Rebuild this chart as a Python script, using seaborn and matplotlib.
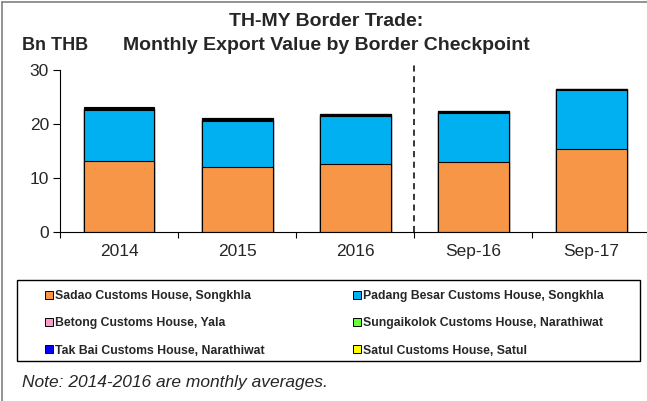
import matplotlib
matplotlib.use('Agg')
import matplotlib.pyplot as plt
import seaborn as sns
import pandas as pd
import numpy as np
from matplotlib.patches import Patch, Rectangle
from matplotlib.lines import Line2D

# data (Bn THB)
periods = ['2014', '2015', '2016', 'Sep-16', 'Sep-17']
sadao = [13.1, 12.0, 12.5, 12.9, 15.3]
padang = [9.5, 8.6, 9.0, 9.2, 10.9]
betong = [0.15, 0.15, 0.1, 0.1, 0.2]
sungaikolok = [0.15, 0.15, 0.15, 0.1, 0.05]
takbai = [0.1, 0.1, 0.1, 0.1, 0.05]
satul = [0.05, 0.05, 0.05, 0.05, 0.02]

names = ['Sadao Customs House, Songkhla', 'Padang Besar Customs House, Songkhla',
         'Betong Customs House, Yala', 'Sungaikolok Customs House, Narathiwat',
         'Tak Bai Customs House, Narathiwat', 'Satul Customs House, Satul']
colors = ['#F79646', '#00B0F0', '#FF99CC', '#66FF33', '#0000FF', '#FFFF00']

sns.set_theme(style="white")
plt.rcParams['font.family'] = ['Liberation Sans', 'DejaVu Sans']

fig = plt.figure(figsize=(6.47, 4.01), dpi=100)
W, H = 647, 401
ax = fig.add_axes([60 / W, 169.5 / H, 590.5 / W, 161.5 / H])

# stacked bars: draw cumulative totals from the top layer down
series = [sadao, padang, betong, sungaikolok, takbai, satul]
cum = np.cumsum(np.array(series), axis=0)
for i in range(len(series) - 1, -1, -1):
    sns.barplot(x=periods, y=cum[i], color=colors[i], width=0.6,
                edgecolor='black', linewidth=0.8, saturation=1, ax=ax)

ax.axvline(2.5, ymin=0, ymax=1.03, color='black', ls=(0, (4, 3)), lw=1.1, clip_on=False)

ax.set_ylim(0, 30)
ax.set_xlim(-0.5, 4.5)
ax.set_yticks([0, 10, 20, 30])
ax.set_xticks(np.arange(-0.5, 5, 1), minor=True)
ax.tick_params(axis='y', which='major', direction='out', length=5, width=0.8,
               color='black', labelsize=12.5, pad=3, left=True)
ax.tick_params(axis='x', which='major', length=0, labelsize=12.5, pad=9)
ax.tick_params(axis='x', which='minor', direction='out', length=4, width=0.8,
               color='black', bottom=True)
for s in ['top', 'right']:
    ax.spines[s].set_visible(False)
for s in ['left', 'bottom']:
    ax.spines[s].set_color('black')
    ax.spines[s].set_linewidth(0.8)
ax.set_xlabel('')
ax.set_ylabel('')

# titles
fig.text(326 / W, 1 - 21 / H, 'TH-MY Border Trade:', ha='center', va='center',
         fontsize=14, fontweight='bold')
fig.text(326 / W, 1 - 45 / H, 'Monthly Export Value by Border Checkpoint', ha='center',
         va='center', fontsize=14, fontweight='bold')
fig.text(22 / W, 1 - 45 / H, 'Bn THB', ha='left', va='center', fontsize=13,
         fontweight='bold')

# legend box
fig.add_artist(Rectangle((17 / W, 1 - 361 / H), 623 / W, 81 / H, transform=fig.transFigure,
                         fill=False, edgecolor='black', lw=1))
handles = [Patch(facecolor=c, edgecolor='black', lw=0.7) for c in colors]
order = [0, 2, 4, 1, 3, 5]
fig.legend([handles[i] for i in order], [names[i] for i in order], ncol=2,
           loc='upper left', bbox_to_anchor=(34 / W, 1 - 279 / H), frameon=False,
           prop={'size': 8.8, 'weight': 'bold'}, handlelength=0.65, handleheight=0.65,
           handletextpad=0.2, columnspacing=7.2, labelspacing=1.25)

fig.text(22 / W, 1 - 383 / H, 'Note: 2014-2016 are monthly averages.', ha='left',
         va='center', fontsize=12.5, fontstyle='italic')

# outer frame (left and top edges)
fig.add_artist(Line2D([1.5 / W, 1.5 / W], [0, 1 - 1.5 / H], transform=fig.transFigure,
                      color='#808080', lw=1.2))
fig.add_artist(Line2D([1.5 / W, 1], [1 - 1.5 / H, 1 - 1.5 / H], transform=fig.transFigure,
                      color='#808080', lw=1.2))

plt.savefig('out.png', dpi=100)
